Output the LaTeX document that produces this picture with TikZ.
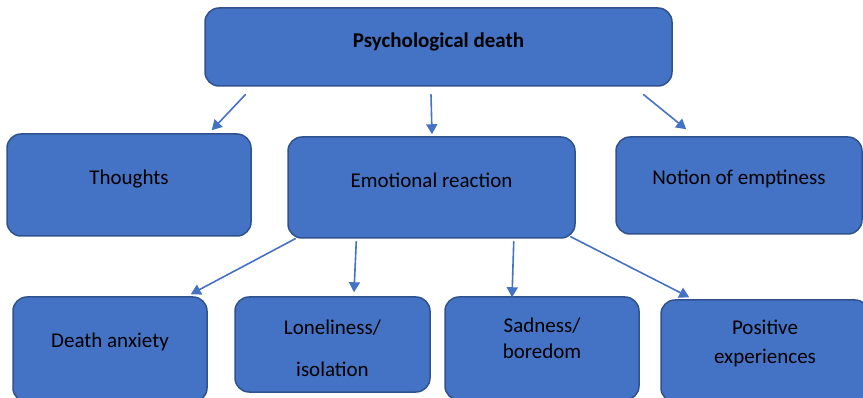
\documentclass[tikz,border=0pt]{standalone}
\usepackage{fontspec}
\setmainfont{Carlito}
\usetikzlibrary{arrows.meta,calc}
\definecolor{boxblue}{HTML}{4472C4}
\definecolor{edgeblue}{HTML}{2F528F}

\begin{document}
\begin{tikzpicture}[x=1pt, y=-1pt, line cap=round, line join=round,
    box/.style={draw=edgeblue, line width=1.5pt, fill=boxblue, rounded corners=14pt,
      font=\fontsize{21}{26}\selectfont, align=center, inner sep=0pt},
    arr/.style={draw=boxblue, line width=1.6pt, -{Triangle[length=10pt,width=11pt]}}]
	\useasboundingbox (0,0) rectangle (863,398);

	\node[box, minimum width=467pt, minimum height=78pt, text depth=14pt, font=\fontsize{21}{26}\selectfont\bfseries] (top) at (438.5,47) {Psychological death};

	\node[box, minimum width=244pt, minimum height=102pt, text depth=16pt] (thoughts) at (129,185) {Thoughts};
	\node[box, minimum width=287pt, minimum height=101pt, text depth=15pt] (emotion) at (431.5,187.5) {Emotional reaction};
	\node[box, minimum width=246pt, minimum height=97pt, text depth=17pt] (emptiness) at (739,185.5) {Notion of emptiness};

	\node[box, minimum width=194pt, minimum height=105pt, text depth=18pt] (anxiety) at (110,349.5) {Death anxiety};
	\node[box, minimum width=195pt, minimum height=95pt] (lonely) at (332.5,344.5) {\rule{0pt}{22pt}Loneliness/\\[16pt]isolation};
	\node[box, minimum width=194pt, minimum height=103pt, text depth=20pt] (sadness) at (542,348.5) {Sadness/\\boredom};
	\node[box, minimum width=208pt, minimum height=102pt, text depth=19pt] (positive) at (765,351) {Positive\\[3pt]experiences};

	\draw[arr] ($(top.south west)+(41,8)$) -- ($(thoughts.north east)+(-40,-3)$);
	\draw[arr] ($(top.south)+(-7.5,8)$) -- ($(emotion.north)+(0.5,-2)$);
	\draw[arr] ($(top.south east)+(-29,8)$) -- ($(emptiness.north west)+(71,-7)$);

	\draw[arr] ($(emotion.south west)+(8,0)$) -- ($(anxiety.north east)+(-17,-2)$);
	\draw[arr] ($(emotion.south west)+(69,3)$) -- ($(lonely.north)+(21.5,-4)$);
	\draw[arr] ($(emotion.south east)+(-62,3)$) -- ($(sadness.north)+(-30,1)$);
	\draw[arr] ($(emotion.south east)+(-5,-2)$) -- ($(positive.north west)+(29,-2)$);
\end{tikzpicture}
\end{document}
